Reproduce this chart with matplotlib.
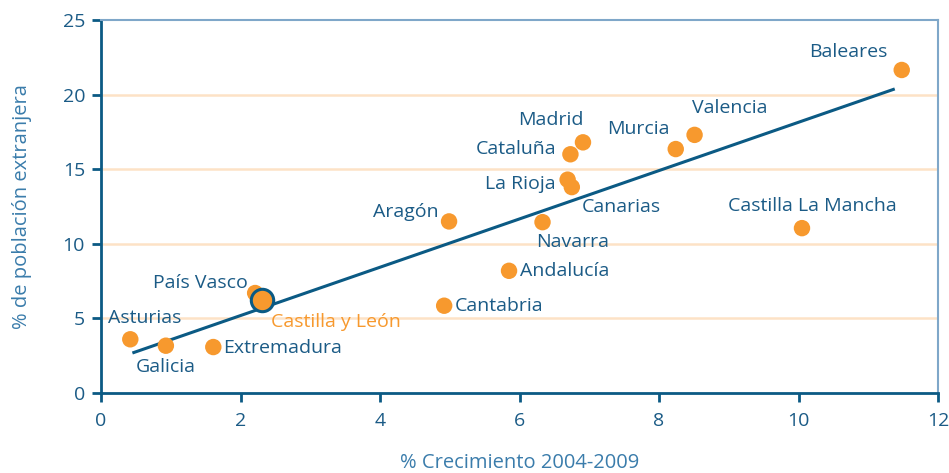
import matplotlib
matplotlib.use("Agg")
import matplotlib.pyplot as plt

# ---- data ----
regions = ["Asturias", "Galicia", "Extremadura", "País Vasco", "Castilla y León",
           "Cantabria", "Aragón", "Andalucía", "Navarra", "La Rioja", "Canarias",
           "Cataluña", "Madrid", "Murcia", "Valencia", "Castilla La Mancha", "Baleares"]
growth = [0.42, 0.93, 1.61, 2.21, 2.31, 4.92, 4.99, 5.85, 6.33, 6.69, 6.75,
          6.73, 6.91, 8.24, 8.51, 10.05, 11.48]
foreign = [3.6, 3.17, 3.08, 6.7, 6.25, 5.85, 11.5, 8.19, 11.45, 14.3, 13.8,
           16.0, 16.8, 16.35, 17.3, 11.05, 21.65]
highlight = "Castilla y León"
trend_x = [0.45, 11.38]
trend_y = [2.68, 20.38]
x_ticks = [0, 2, 4, 6, 8, 10, 12]
y_ticks = [0, 5, 10, 15, 20, 25]

# ---- label placement (pixel offsets, alignment) ----
label_pos = {
    "Asturias": (14, 21, "center"),
    "Galicia": (0, -21, "center"),
    "Extremadura": (10, -1, "left"),
    "País Vasco": (-7, 10, "right"),
    "Castilla y León": (9, -22, "left"),
    "Cantabria": (11, 0, "left"),
    "Aragón": (-10, 9, "right"),
    "Andalucía": (11, 0, "left"),
    "Navarra": (30, -20, "center"),
    "La Rioja": (-12, -4, "right"),
    "Canarias": (10, -20, "left"),
    "Cataluña": (-14, 5, "right"),
    "Madrid": (-32, 22, "center"),
    "Murcia": (-37, 20, "center"),
    "Valencia": (35, 27, "center"),
    "Castilla La Mancha": (10, 22, "center"),
    "Baleares": (-53, 18, "center"),
}

DARK = "#0b5a84"
TEXT = "#1b5b86"
LIGHT = "#3a7cab"
ORANGE = "#f7992e"
GRID = "#fde2c6"
FRAME = "#7fa7c9"

plt.rcParams["font.family"] = ["Open Sans", "DejaVu Sans"]

fig = plt.figure(figsize=(9.49, 4.73), dpi=100)
ax = fig.add_axes([101/949, 1-393/473, 837/949, 373/473])

ax.set_xlim(0, 12)
ax.set_ylim(0, 25)
ax.set_xticks(x_ticks)
ax.set_yticks(y_ticks)

for yv in y_ticks[1:-1]:
    ax.axhline(yv, color=GRID, lw=1.8, zorder=0)

for s in ["left", "bottom"]:
    ax.spines[s].set_color(DARK)
    ax.spines[s].set_linewidth(2.0)
for s in ["top", "right"]:
    ax.spines[s].set_color(FRAME)
    ax.spines[s].set_linewidth(1.5)

ax.tick_params(axis="both", direction="out", length=6.5, width=2.0, color=DARK,
               labelcolor=TEXT, labelsize=14)
ax.tick_params(axis="y", pad=5)
ax.tick_params(axis="x", pad=7)

ax.plot(trend_x, trend_y, color=DARK, lw=2.2, zorder=2, solid_capstyle="butt")

xs = [g for g, r in zip(growth, regions) if r != highlight]
ys = [f for f, r in zip(foreign, regions) if r != highlight]
ax.scatter(xs, ys, s=140, color=ORANGE, edgecolors="none", zorder=3)
hi = regions.index(highlight)
ax.scatter([growth[hi]], [foreign[hi]], s=260, color=ORANGE, edgecolors=DARK,
           linewidths=2.2, zorder=4)

for r, gx, fy in zip(regions, growth, foreign):
    dx, dy, ha = label_pos[r]
    ax.annotate(r, (gx, fy), xytext=(dx, dy), textcoords="offset pixels",
                ha=ha, va="center", fontsize=14,
                color=ORANGE if r == highlight else TEXT, zorder=5)

ax.set_xlabel("% Crecimiento 2004-2009", color=LIGHT, fontsize=14.5, labelpad=17)
ax.set_ylabel("% de población extranjera", color=LIGHT, fontsize=14.5, labelpad=22)

fig.savefig("out.png", dpi=100)
